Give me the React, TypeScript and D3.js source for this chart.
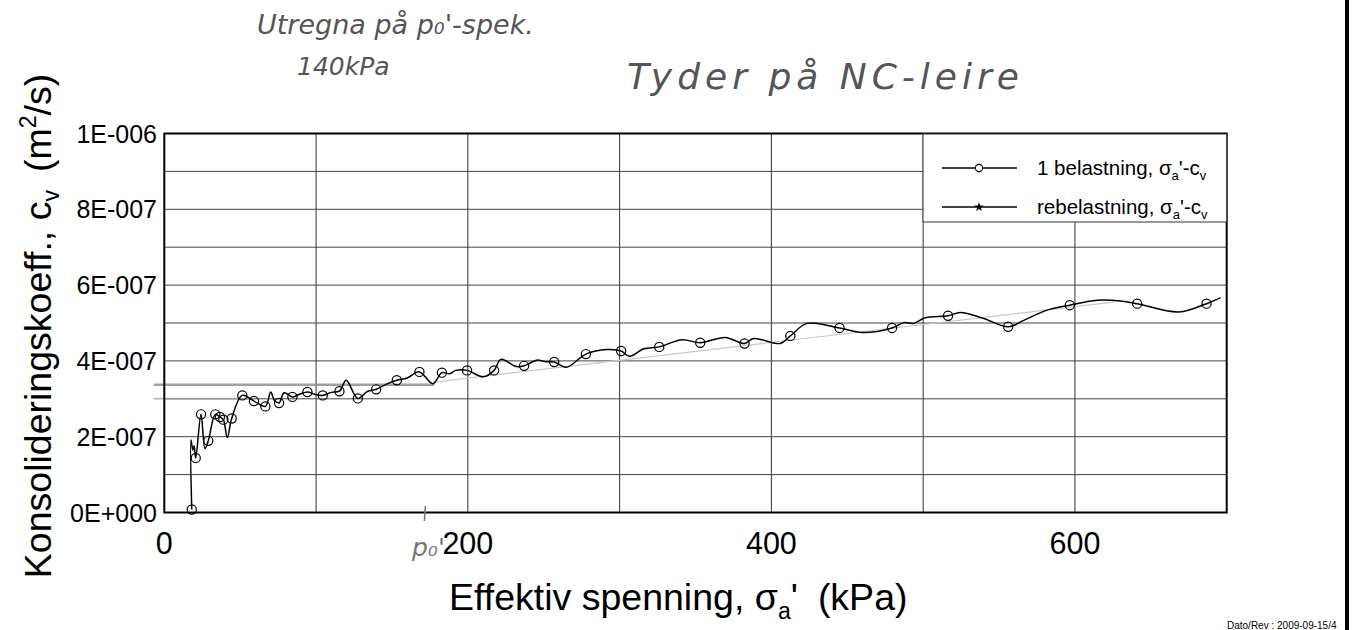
import React from "react";
import * as d3 from "d3";

// ---- Data ----
// Curve (all points of the smoothed line), sigma_a' in kPa, cv in m2/s
const lineStress = [
  18.1, 17.6, 18.8, 19.6, 20.7, 24.2, 26.8, 29.0, 33.6, 36.7, 38.9, 41.5, 44.4, 51.4, 59.1, 66.6,
  70.1, 72.5, 75.6, 78.9, 84.4, 89.0, 94.3, 99.0, 104.4, 110.0, 115.4, 119.8, 127.5, 134.0, 139.6,
  146.0, 153.2, 160.0, 168.1, 176.9, 182.9, 188.0, 192.0, 199.5, 210.3, 217.3, 221.8, 232.0, 237.1,
  245.5, 251.0, 256.9, 264.8, 277.8, 291.6, 301.0, 306.5, 316.0, 326.1, 341.0, 353.1, 369.6, 382.3,
  388.3, 405.9, 412.5, 423.5, 444.9, 459.7, 479.5, 487.2, 493.8, 501.5, 516.4, 524.5, 539.9, 556.0,
  566.3, 581.7, 596.6, 614.7, 630.0, 641.0, 668.4, 686.7, 695.9,
];
const lineCv = [
  0.08e-7, 1.91e-7, 1.65e-7, 1.76e-7, 1.44e-7, 2.59e-7, 1.69e-7, 1.89e-7, 2.59e-7, 2.52e-7, 2.45e-7, 1.98e-7, 2.48e-7, 3.09e-7, 2.94e-7, 2.80e-7,
  3.18e-7, 2.96e-7, 2.89e-7, 3.16e-7, 3.05e-7, 3.12e-7, 3.18e-7, 3.12e-7, 3.09e-7, 3.17e-7, 3.20e-7, 3.49e-7, 3.01e-7, 3.20e-7, 3.25e-7,
  3.38e-7, 3.49e-7, 3.55e-7, 3.71e-7, 3.40e-7, 3.69e-7, 3.66e-7, 3.75e-7, 3.75e-7, 3.58e-7, 3.75e-7, 4.04e-7, 3.85e-7, 3.87e-7,
  4.02e-7, 3.98e-7, 3.97e-7, 3.83e-7, 4.18e-7, 4.30e-7, 4.26e-7, 4.12e-7, 4.32e-7, 4.37e-7, 4.56e-7, 4.48e-7, 4.62e-7, 4.46e-7,
  4.59e-7, 4.46e-7, 4.66e-7, 4.99e-7, 4.87e-7, 4.75e-7, 4.87e-7, 5.01e-7, 4.99e-7, 5.14e-7, 5.19e-7, 5.28e-7, 5.12e-7, 4.90e-7,
  5.07e-7, 5.34e-7, 5.47e-7, 5.60e-7, 5.58e-7, 5.51e-7, 5.29e-7, 5.51e-7, 5.67e-7,
];
// Circle markers ("1 belastning")
const markerStress = [
  18.1, 20.7, 24.2, 29.0, 33.6, 36.7, 38.9, 44.4, 51.4, 59.1, 66.6, 75.6, 84.4, 94.3, 104.4, 115.4,
  127.5, 139.6, 153.2, 168.1, 182.9, 199.5, 217.3, 237.1, 256.9, 277.8, 301.0, 326.1, 353.1, 382.3,
  412.5, 444.9, 479.5, 516.4, 556.0, 596.6, 641.0, 686.7,
];
const markerCv = [
  0.08e-7, 1.44e-7, 2.59e-7, 1.89e-7, 2.59e-7, 2.52e-7, 2.45e-7, 2.48e-7, 3.09e-7, 2.94e-7, 2.80e-7, 2.89e-7, 3.05e-7, 3.18e-7, 3.09e-7, 3.20e-7,
  3.01e-7, 3.25e-7, 3.49e-7, 3.71e-7, 3.69e-7, 3.75e-7, 3.75e-7, 3.87e-7, 3.97e-7, 4.18e-7, 4.26e-7, 4.37e-7, 4.48e-7, 4.46e-7,
  4.66e-7, 4.87e-7, 4.87e-7, 5.19e-7, 4.90e-7, 5.47e-7, 5.51e-7, 5.51e-7,
];

const xTicks = [0, 200, 400, 600];
const yTicks = [0, 2e-7, 4e-7, 6e-7, 8e-7, 1e-6];
const xDomain = [0, 700];
const yDomain = [0, 1e-6];

const legendLabels = ["1 belastning, ", "rebelastning, "];

// pencil annotations (hand drawn on the print)
const pencilFlat = { x: [-7, 178], y: 3.37e-7 };
const pencilFlat2 = { x: [-7, 60], y: 3.0e-7 };
const pencilSlope = { x: [178, 625], y: [3.44e-7, 5.55e-7] };
const p0Stress = 172;

const W = 1353;
const H = 630;
const M = { left: 164.3, right: 1226.7, top: 133.5, bottom: 512.5 };
const FONT = "'Liberation Sans', Arial, Helvetica, sans-serif";
const HAND = "'DejaVu Sans', sans-serif";

function fmtE(v: number): string {
  if (v === 0) return "0E+000";
  const e = Math.floor(Math.log10(v) + 1e-9);
  const m = Math.round(v / Math.pow(10, e));
  return `${m}E${e < 0 ? "-" : "+"}${String(Math.abs(e)).padStart(3, "0")}`;
}

export default function App() {
  const x = d3.scaleLinear().domain(xDomain).range([M.left, M.right]);
  const y = d3.scaleLinear().domain(yDomain).range([M.bottom, M.top]);

  const pts: [number, number][] = lineStress.map((s, i) => [s, lineCv[i]]);
  const line = d3
    .line<[number, number]>()
    .x((d) => x(d[0]))
    .y((d) => y(d[1]))
    .curve(d3.curveCatmullRom.alpha(0.5));

  const xGrid = d3.range(100, 700, 100);
  const yGrid = d3.range(1, 10).map((k) => k * 1e-7);

  const lx = 923;
  const ly = 134;
  const star = d3.symbol().type(d3.symbolStar).size(28)();

  return (
    <div style={{ position: "absolute", left: 0, top: 0 }}>
      <svg width={W} height={H} style={{ display: "block", background: "#fff" }}>
        <rect x={0} y={0} width={W} height={H} fill="#fff" />
        {/* grid */}
        {xGrid.map((v) => (
          <line key={"gx" + v} x1={x(v)} x2={x(v)} y1={M.top} y2={M.bottom} stroke="#333" strokeWidth={1} />
        ))}
        {yGrid.map((v) => (
          <line key={"gy" + v} x1={M.left} x2={M.right} y1={y(v)} y2={y(v)} stroke="#444" strokeWidth={1} />
        ))}
        {/* pencil lines */}
        <line x1={x(pencilFlat.x[0])} x2={x(pencilFlat.x[1])} y1={y(pencilFlat.y)} y2={y(pencilFlat.y)} stroke="#8a8a8a" strokeWidth={2.6} opacity={0.8} />
        <line x1={x(pencilFlat2.x[0])} x2={x(pencilFlat2.x[1])} y1={y(pencilFlat2.y)} y2={y(pencilFlat2.y)} stroke="#a8a8a8" strokeWidth={2} opacity={0.7} />
        <line x1={x(pencilSlope.x[0])} x2={x(pencilSlope.x[1])} y1={y(pencilSlope.y[0])} y2={y(pencilSlope.y[1])} stroke="#c8c8c8" strokeWidth={1.2} />
        {/* data */}
        <path d={line(pts) || ""} fill="none" stroke="#000" strokeWidth={1.5} />
        {markerStress.map((s, i) => (
          <circle key={"m" + i} cx={x(s)} cy={y(markerCv[i])} r={4.6} fill="none" stroke="#000" strokeWidth={1.2} />
        ))}
        {/* frame */}
        <rect x={M.left} y={M.top} width={M.right - M.left} height={M.bottom - M.top} fill="none" stroke="#000" strokeWidth={2} />
        {/* legend */}
        <rect x={lx} y={ly} width={M.right - lx} height={88} fill="#fff" stroke="#333" strokeWidth={1} />
        <line x1={942} x2={1017} y1={168} y2={168} stroke="#000" strokeWidth={1.3} />
        <circle cx={979} cy={168} r={3.6} fill="#fff" stroke="#000" strokeWidth={1.1} />
        <line x1={942} x2={1017} y1={207} y2={207} stroke="#000" strokeWidth={1.3} />
        <path d={star || ""} transform="translate(979,207)" fill="#000" />
        {legendLabels.map((lab, i) => (
          <text key={"lg" + i} x={1037} y={175 + i * 39} fontFamily={FONT} fontSize={20.5} fill="#000">
            {lab}σ
            <tspan fontSize={13} dy={5}>a</tspan>
            <tspan dy={-5}>'-c</tspan>
            <tspan fontSize={13} dy={5}>v</tspan>
          </text>
        ))}
        {/* y ticks */}
        {yTicks.map((v) => (
          <text key={"yt" + v} x={157} y={y(v) + 9} textAnchor="end" fontFamily={FONT} fontSize={25} fill="#000">
            {fmtE(v)}
          </text>
        ))}
        {/* x ticks */}
        {xTicks.map((v) => (
          <text key={"xt" + v} x={x(v)} y={554} textAnchor="middle" fontFamily={FONT} fontSize={30.5} fill="#000">
            {v}
          </text>
        ))}
        {/* x title */}
        <text x={449} y={610} fontFamily={FONT} fontSize={37.5} fill="#000">
          Effektiv spenning, σ
          <tspan fontSize={23} dy={9}>a</tspan>
          <tspan dy={-9}>'</tspan>
          <tspan dx={20}>(kPa)</tspan>
        </text>
        {/* y title */}
        <text transform="translate(51,326) rotate(-90)" textAnchor="middle" fontFamily={FONT} fontSize={37.5} fill="#000">
          Konsolideringskoeff., c
          <tspan fontSize={23} dy={8}>v</tspan>
          <tspan dy={-8} dx={18}>(m</tspan>
          <tspan fontSize={23} dy={-15}>2</tspan>
          <tspan dy={15}>/s)</tspan>
        </text>
        {/* handwritten annotations */}
        <text x={257} y={34} fontFamily={HAND} fontSize={27} fill="#555" fontStyle="italic">
          Utregna på p₀'-spek.
        </text>
        <text x={297} y={75} fontFamily={HAND} fontSize={25} fill="#555" fontStyle="italic">
          140kPa
        </text>
        <text x={627} y={89} fontFamily={HAND} fontSize={36} fill="#555" fontStyle="italic" letterSpacing={5}>
          Tyder på NC-leire
        </text>
        <line x1={x(p0Stress)} x2={x(p0Stress) - 1} y1={506} y2={521} stroke="#777" strokeWidth={1.5} />
        <text x={412} y={556} fontFamily={HAND} fontSize={25} fill="#777" fontStyle="italic">
          p₀'
        </text>
        {/* footer */}
        <text x={1227} y={629} fontFamily={FONT} fontSize={10} fill="#000">
          Dato/Rev : 2009-09-15/4
        </text>
        <rect x={1345} y={0} width={4} height={H} fill="#000" />
      </svg>
    </div>
  );
}
